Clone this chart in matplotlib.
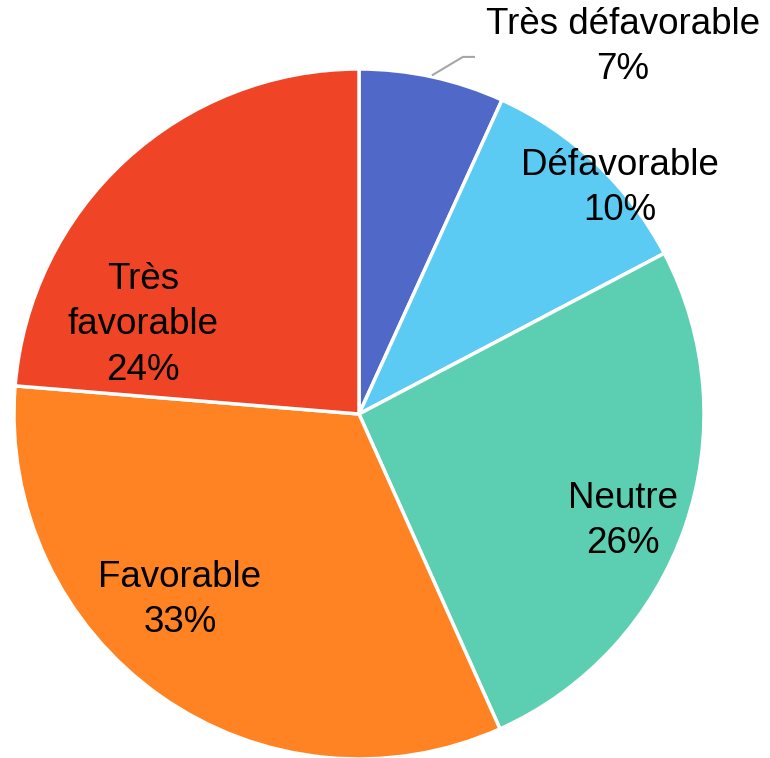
import matplotlib
matplotlib.use("Agg")
import matplotlib.pyplot as plt

categories = ["Très défavorable", "Défavorable", "Neutre", "Favorable", "Très favorable"]
values = [6.8, 10.49, 26.01, 33.0, 23.7]
label_texts = ["Très défavorable", "Défavorable", "Neutre", "Favorable", "Très\nfavorable"]
colors = ["#5068C8", "#5CCBF3", "#5CCFB2", "#FF8322", "#EF4426"]

plt.rcParams['font.family'] = ['Liberation Sans', 'DejaVu Sans']

fig = plt.figure(figsize=(7.7, 7.58), dpi=100)
W, H = 770, 758
cx, cy, r = 359, 414, 345
ax = fig.add_axes([(cx - r) / W, (H - cy - r) / H, 2 * r / W, 2 * r / H])
ax.pie(values, colors=colors, startangle=90, counterclock=False, radius=1,
       wedgeprops=dict(edgecolor="white", linewidth=2.5))
ax.set_xlim(-1, 1)
ax.set_ylim(-1, 1)
ax.set_aspect("equal")
ax.axis("off")

total = sum(values)
label_pos = [(0.765, 1.064), (0.757, 0.655), (0.765, -0.310), (-0.519, -0.539), (-0.626, 0.258)]
for txt, v, (x, y) in zip(label_texts, values, label_pos):
    pct = round(v / total * 100)
    ax.text(x, y, f"{txt}\n{pct}%", ha="center", va="center", fontsize=26.5,
            color="black", clip_on=False, linespacing=1.38)

ax.plot([0.214, 0.301, 0.333], [0.983, 1.035, 1.035], color="#A6A6A6", lw=1.5,
        clip_on=False)

fig.savefig("out.png", dpi=100)
